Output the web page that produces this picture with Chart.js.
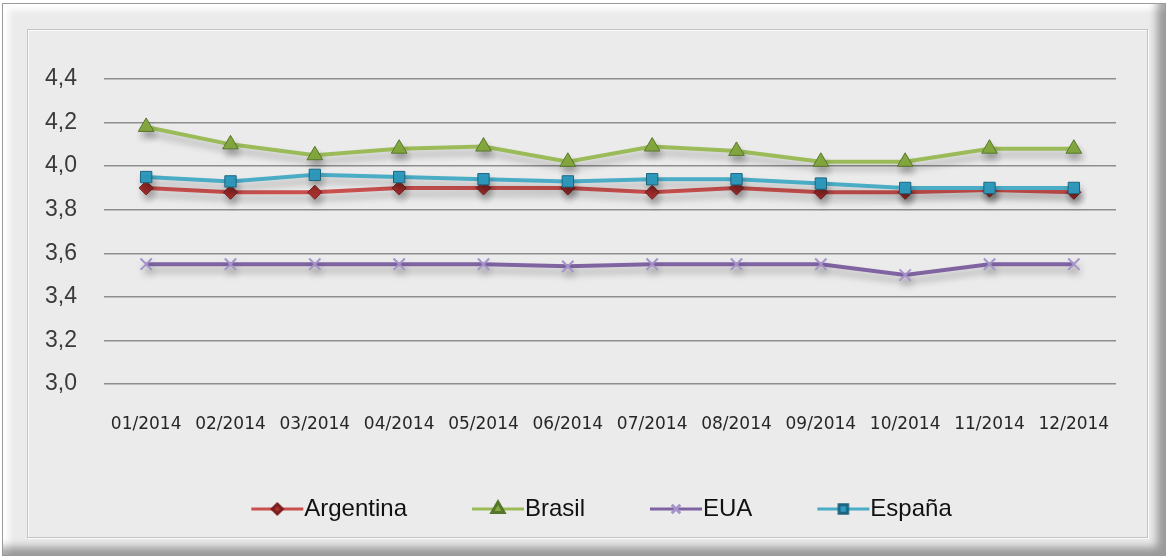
<!DOCTYPE html>
<html lang="es">
<head>
    <meta charset="UTF-8">
    <title>Argentina, Brasil, EUA, España 2014</title>
    <style>
        body {
            margin: 0;
            background: #ffffff;
        }
        .frame {
            position: absolute;
            left: 2px;
            top: 3px;
            width: 1162px;
            height: 551px;
            background: #ebebeb;
            border: 1px solid #9a9a9a;
            box-shadow: inset -10px -10px 8px -2px rgba(0, 0, 0, 0.35), inset 8px 8px 6px -2px rgba(255, 255, 255, 0.95);
        }
        .panel {
            position: absolute;
            left: 27px;
            top: 29px;
            width: 1119px;
            height: 507px;
            border: 1px solid #c4c4c4;
            box-shadow: 1px 1px 0 #fafafa, inset 1px 1px 0 #fafafa;
        }
        #wrap {
            position: absolute;
            left: 0;
            top: 0;
            width: 1169px;
            height: 560px;
        }
    </style>
</head>
<body>
    <div class="frame"></div>
    <div class="panel"></div>
    <div id="wrap"><canvas id="chart"></canvas></div>

    <script src="https://cdn.jsdelivr.net/npm/chart.js"></script>
    <script>
        // data
        const months = ['01/2014', '02/2014', '03/2014', '04/2014', '05/2014', '06/2014',
                        '07/2014', '08/2014', '09/2014', '10/2014', '11/2014', '12/2014'];
        const argentina = [3.90, 3.88, 3.88, 3.90, 3.90, 3.90, 3.88, 3.90, 3.88, 3.88, 3.89, 3.88];
        const brasil    = [4.18, 4.10, 4.05, 4.08, 4.09, 4.02, 4.09, 4.07, 4.02, 4.02, 4.08, 4.08];
        const eua       = [3.55, 3.55, 3.55, 3.55, 3.55, 3.54, 3.55, 3.55, 3.55, 3.50, 3.55, 3.55];
        const espana    = [3.95, 3.93, 3.96, 3.95, 3.94, 3.93, 3.94, 3.94, 3.92, 3.90, 3.90, 3.90];
        const yMin = 3.0, yMax = 4.4, yStep = 0.2;

        const series = [
            { label: 'Argentina', data: argentina, line: '#c9504e', fill: '#a8302e', edge: '#7a1e1e', style: 'rectRot', r: 7 },
            { label: 'Brasil',    data: brasil,    line: '#9bbb59', fill: '#86aa40', edge: '#56762a', style: 'triangle', r: 9 },
            { label: 'EUA',       data: eua,       line: '#8064a2', fill: '#9a88c2', edge: '#a593cc', style: 'crossRot', r: 8 },
            { label: 'España',    data: espana,    line: '#4bacc6', fill: '#2f9cc0', edge: '#1c6580', style: 'rect', r: 8 }
        ];

        // legend swatch: short line with the marker on it
        function legendSwatch(s) {
            const c = document.createElement('canvas');
            c.width = 124;
            c.height = 24;
            const ctx = c.getContext('2d');
            ctx.strokeStyle = s.line;
            ctx.lineWidth = 3;
            ctx.beginPath();
            ctx.moveTo(69, 12);
            ctx.lineTo(121, 12);
            ctx.stroke();
            ctx.fillStyle = s.fill;
            ctx.strokeStyle = s.edge;
            Chart.helpers.drawPoint(ctx, { pointStyle: s.style, radius: s.r - 2, rotation: 0, borderWidth: s.style === 'crossRot' ? 2 : 1 }, 95, 12);
            return c;
        }

        // soft drop shadow under the lines
        const shadowPlugin = {
            id: 'shadow',
            beforeDatasetsDraw(chart) {
                const ctx = chart.ctx;
                ctx.save();
                ctx.shadowColor = 'rgba(0, 0, 0, 0.28)';
                ctx.shadowBlur = 7;
                ctx.shadowOffsetX = 2;
                ctx.shadowOffsetY = 6;
            },
            afterDatasetsDraw(chart) {
                chart.ctx.restore();
            }
        };

        const ctx = document.getElementById('chart').getContext('2d');
        const chart = new Chart(ctx, {
            type: 'line',
            data: {
                labels: months,
                datasets: series.map((s, i) => ({
                    label: s.label,
                    data: s.data,
                    borderColor: s.line,
                    borderWidth: 4,
                    tension: 0,
                    pointStyle: s.style,
                    pointRadius: s.r,
                    pointHoverRadius: s.r,
                    pointBackgroundColor: s.fill,
                    pointBorderColor: s.edge,
                    pointBorderWidth: s.style === 'crossRot' ? 2 : 1,
                    order: series.length - i
                }))
            },
            options: {
                responsive: true,
                maintainAspectRatio: false,
                animation: false,
                layout: {
                    padding: { left: 32, right: 53, top: 79, bottom: 29 }
                },
                scales: {
                    x: {
                        offset: true,
                        grid: { display: false, drawTicks: false },
                        border: { display: false },
                        ticks: {
                            padding: 30,
                            color: '#262626',
                            font: { family: 'DejaVu Sans', size: 17 }
                        },
                        afterFit: s => { s.height = 103; }
                    },
                    y: {
                        min: yMin,
                        max: yMax,
                        grid: { color: '#8e8e8e', lineWidth: 1.5, drawTicks: false },
                        border: { display: false },
                        ticks: {
                            stepSize: yStep,
                            padding: 27,
                            color: '#3a3a3a',
                            font: { family: 'Liberation Sans', size: 23 },
                            callback: v => v.toFixed(1).replace('.', ',')
                        },
                        afterFit: s => { s.width = 72; }
                    }
                },
                plugins: {
                    tooltip: { enabled: false },
                    legend: {
                        position: 'bottom',
                        labels: {
                            usePointStyle: true,
                            pointStyleWidth: 96,
                            padding: 10,
                            color: '#111111',
                            font: { family: 'Liberation Sans', size: 24 },
                            generateLabels: c => series.map((s, i) => ({
                                text: s.label,
                                pointStyle: legendSwatch(s),
                                fillStyle: s.fill,
                                strokeStyle: s.edge,
                                lineWidth: 0,
                                fontColor: '#111111',
                                hidden: false,
                                datasetIndex: i
                            }))
                        }
                    }
                }
            },
            plugins: [shadowPlugin]
        });
    </script>
</body>
</html>
